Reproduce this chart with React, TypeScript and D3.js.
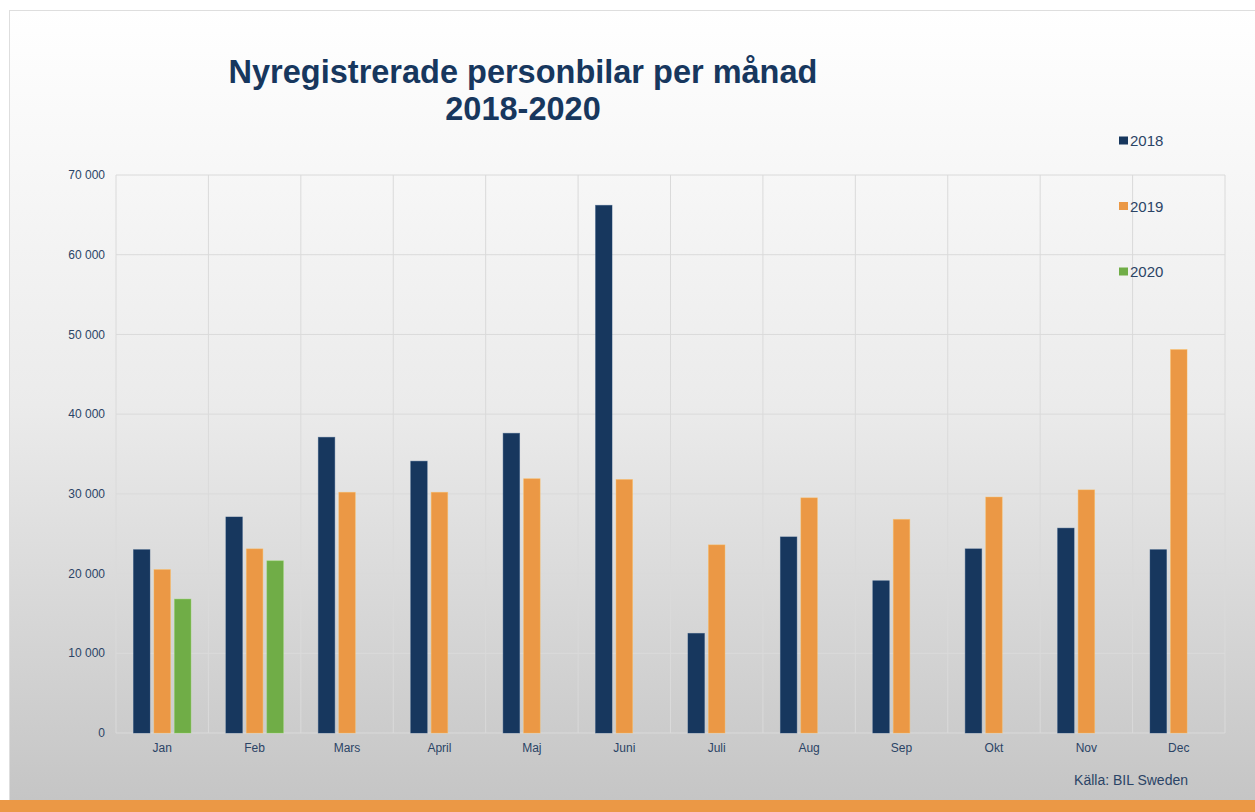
import React from "react";
import * as d3 from "d3";

const months = ["Jan", "Feb", "Mars", "April", "Maj", "Juni", "Juli", "Aug", "Sep", "Okt", "Nov", "Dec"];
const years = ["2018", "2019", "2020"];
const values2018 = [23000, 27100, 37100, 34100, 37600, 66200, 12500, 24600, 19100, 23100, 25700, 23000];
const values2019 = [20500, 23100, 30200, 30200, 31900, 31800, 23600, 29500, 26800, 29600, 30500, 48100];
const values2020 = [16800, 21600];
const yTicks = [0, 10000, 20000, 30000, 40000, 50000, 60000, 70000];
const colors = ["#17375e", "#eb9845", "#70ad47"];
const seriesValues = [values2018, values2019, values2020];

export default function App() {
  const W = 1255, H = 812;
  const left = 116, right = 1225, top = 175, bottom = 733;
  const x = d3.scaleBand<string>().domain(months).range([left, right]).padding(0);
  const y = d3.scaleLinear().domain([0, 70000]).range([bottom, top]);
  const bw = 16.5, gap = 4;
  const groupW = 3 * bw + 2 * gap;
  const fmt = (v: number) => d3.format(",")(v).replace(/,/g, " ");
  const textColor = "#2b4466";
  return (
    <svg width={W} height={H} style={{ position: "absolute", left: 0, top: 0 }} fontFamily="'Liberation Sans', Arial, sans-serif">
      <defs>
        <linearGradient id="bg" x1="0" y1="0" x2="0" y2="1">
          <stop offset="0" stopColor="#ffffff" />
          <stop offset="0.5" stopColor="#ebebeb" />
          <stop offset="1" stopColor="#c5c5c5" />
        </linearGradient>
      </defs>
      <rect x={0} y={0} width={W} height={H} fill="#ffffff" />
      <rect x={9.5} y={10.5} width={W} height={790} fill="url(#bg)" stroke="#dedede" strokeWidth={1} />
      <rect x={0} y={800} width={W} height={12} fill="#eb9845" />
      {yTicks.map((t) => (
        <line key={"h" + t} x1={left} x2={right} y1={y(t)} y2={y(t)} stroke="#dadada" strokeWidth={1} />
      ))}
      {[...months.map((m) => x(m) as number), right].map((xv, i) => (
        <line key={"v" + i} x1={xv} x2={xv} y1={top} y2={bottom} stroke="#dadada" strokeWidth={1} />
      ))}
      {seriesValues.map((vals, si) =>
        vals.map((v, mi) => {
          const cx = (x(months[mi]) as number) + x.bandwidth() / 2;
          const bx = cx - groupW / 2 + si * (bw + gap);
          return (
            <rect key={si + "-" + mi} x={bx} y={y(v)} width={bw} height={bottom - y(v)} fill={colors[si]} stroke={d3.color(colors[si])!.brighter(0.6).toString()} strokeOpacity={0.5} strokeWidth={0.8} />
          );
        })
      )}
      {yTicks.map((t) => (
        <text key={"yl" + t} x={105} y={y(t)} dy="0.35em" textAnchor="end" fontSize={12} fill={textColor}>
          {fmt(t)}
        </text>
      ))}
      {months.map((m) => (
        <text key={"xl" + m} x={(x(m) as number) + x.bandwidth() / 2} y={752} textAnchor="middle" fontSize={12} fill={textColor}>
          {m}
        </text>
      ))}
      <text x={523} y={83} textAnchor="middle" fontSize={32.5} fontWeight="bold" fill="#17375e">
        Nyregistrerade personbilar per månad
      </text>
      <text x={523} y={120} textAnchor="middle" fontSize={32.5} fontWeight="bold" fill="#17375e">
        2018-2020
      </text>
      {years.map((yr, i) => {
        const ly = 141 + i * 65.5;
        return (
          <g key={yr}>
            <rect x={1119} y={ly - 4.5} width={9} height={8} fill={colors[i]} />
            <text x={1130} y={ly} dy="0.35em" fontSize={15} fill={textColor}>
              {yr}
            </text>
          </g>
        );
      })}
      <text x={1188} y={785} textAnchor="end" fontSize={14} fill={textColor} fontFamily="'Liberation Sans', sans-serif">
        Källa:  BIL Sweden
      </text>
    </svg>
  );
}
